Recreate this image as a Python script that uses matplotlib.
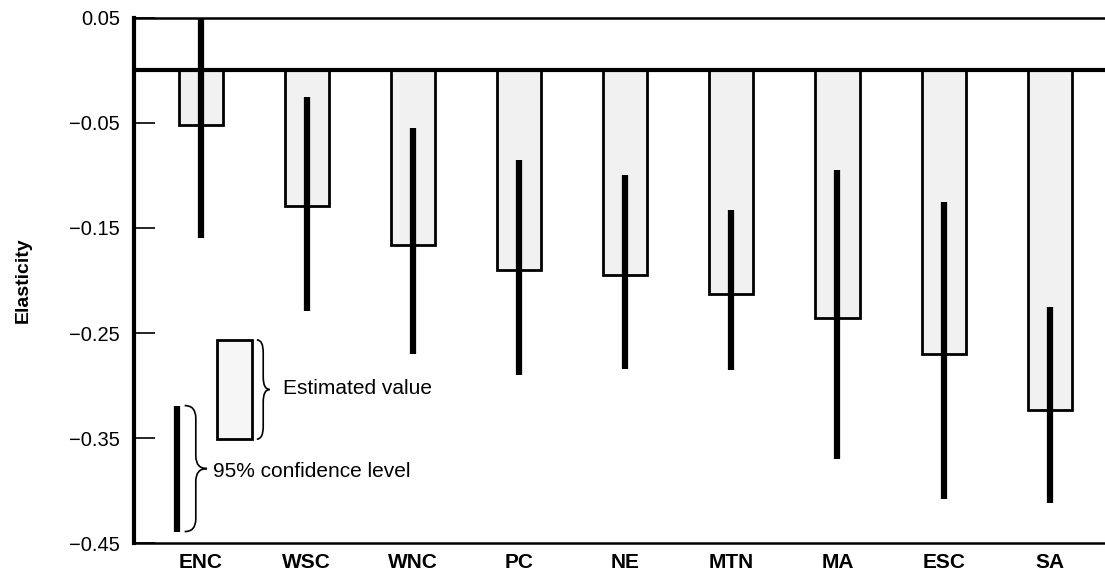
import numpy as np
import matplotlib
matplotlib.use("Agg")
import matplotlib.pyplot as plt
from matplotlib.patches import Rectangle
from matplotlib.path import Path
from matplotlib.patches import PathPatch

plt.rcParams['font.family'] = ['Liberation Sans', 'DejaVu Sans']

# region labels, estimated elasticity and 95% confidence limits
regions = ['ENC', 'WSC', 'WNC', 'PC', 'NE', 'MTN', 'MA', 'ESC', 'SA']
estimate = [-0.052, -0.129, -0.166, -0.190, -0.195, -0.213, -0.236, -0.270, -0.323]
ci_upper = [0.055, -0.025, -0.055, -0.085, -0.100, -0.133, -0.095, -0.125, -0.225]
ci_lower = [-0.160, -0.229, -0.270, -0.290, -0.284, -0.285, -0.370, -0.408, -0.412]
yticks = [0.05, -0.05, -0.15, -0.25, -0.35, -0.45]


def brace(ax, x, y0, y1, w, r):
    # right-pointing curly brace from y0 (bottom) to y1 (top)
    ym = (y0 + y1) / 2
    xm = x + w / 2
    verts = [(x, y1), (xm, y1), (xm, y1 - r),
             (xm, ym + r),
             (xm, ym), (x + w, ym),
             (xm, ym), (xm, ym - r),
             (xm, y0 + r),
             (xm, y0), (x, y0)]
    codes = [Path.MOVETO, Path.CURVE3, Path.CURVE3,
             Path.LINETO,
             Path.CURVE3, Path.CURVE3,
             Path.CURVE3, Path.CURVE3,
             Path.LINETO,
             Path.CURVE3, Path.CURVE3]
    ax.add_patch(PathPatch(Path(verts, codes), fill=False, lw=1.2, color='black'))


fig = plt.figure(figsize=(11.05, 5.76), dpi=100)
ax = fig.add_axes([0.121, 0.057, 0.879, 0.912])

x = np.arange(len(regions))
ax.bar(x, estimate, width=0.415, color='#f1f1f1', edgecolor='black', linewidth=2, zorder=2)
ax.vlines(x, ci_lower, ci_upper, colors='black', linewidth=4.5, zorder=3)
ax.axhline(0, color='black', linewidth=3, zorder=4)

# key in lower left
ax.add_patch(Rectangle((0.15, -0.351), 0.33, 0.0945, facecolor='#f6f6f6',
                       edgecolor='black', linewidth=2, zorder=2))
ax.vlines(-0.22, -0.439, -0.319, colors='black', linewidth=4.5, zorder=3)
brace(ax, 0.53, -0.351, -0.2565, 0.12, 0.012)
brace(ax, -0.15, -0.439, -0.319, 0.21, 0.012)
ax.text(0.78, -0.303, 'Estimated value', fontsize=15, va='center', ha='left')
ax.text(0.115, -0.382, '95% confidence level', fontsize=15, va='center', ha='left')

ax.set_xlim(-0.63, 8.52)
ax.set_ylim(-0.45, 0.05)
ax.set_yticks(yticks)
ax.set_yticklabels([f'{t:.2f}'.replace('-', '\u2212') for t in yticks], fontsize=14.5)
ax.set_xticks(x)
ax.set_xticklabels(regions, fontsize=15, fontweight='bold')
ax.tick_params(axis='y', direction='in', length=15, width=1.2, pad=10)
ax.tick_params(axis='x', length=0, pad=7)
ax.set_ylabel('Elasticity', fontsize=14, fontweight='bold', labelpad=27)

ax.spines['right'].set_visible(False)
ax.spines['left'].set_linewidth(3)
ax.spines['top'].set_linewidth(1.8)
ax.spines['bottom'].set_linewidth(1.8)

fig.savefig('out.png', dpi=100)
